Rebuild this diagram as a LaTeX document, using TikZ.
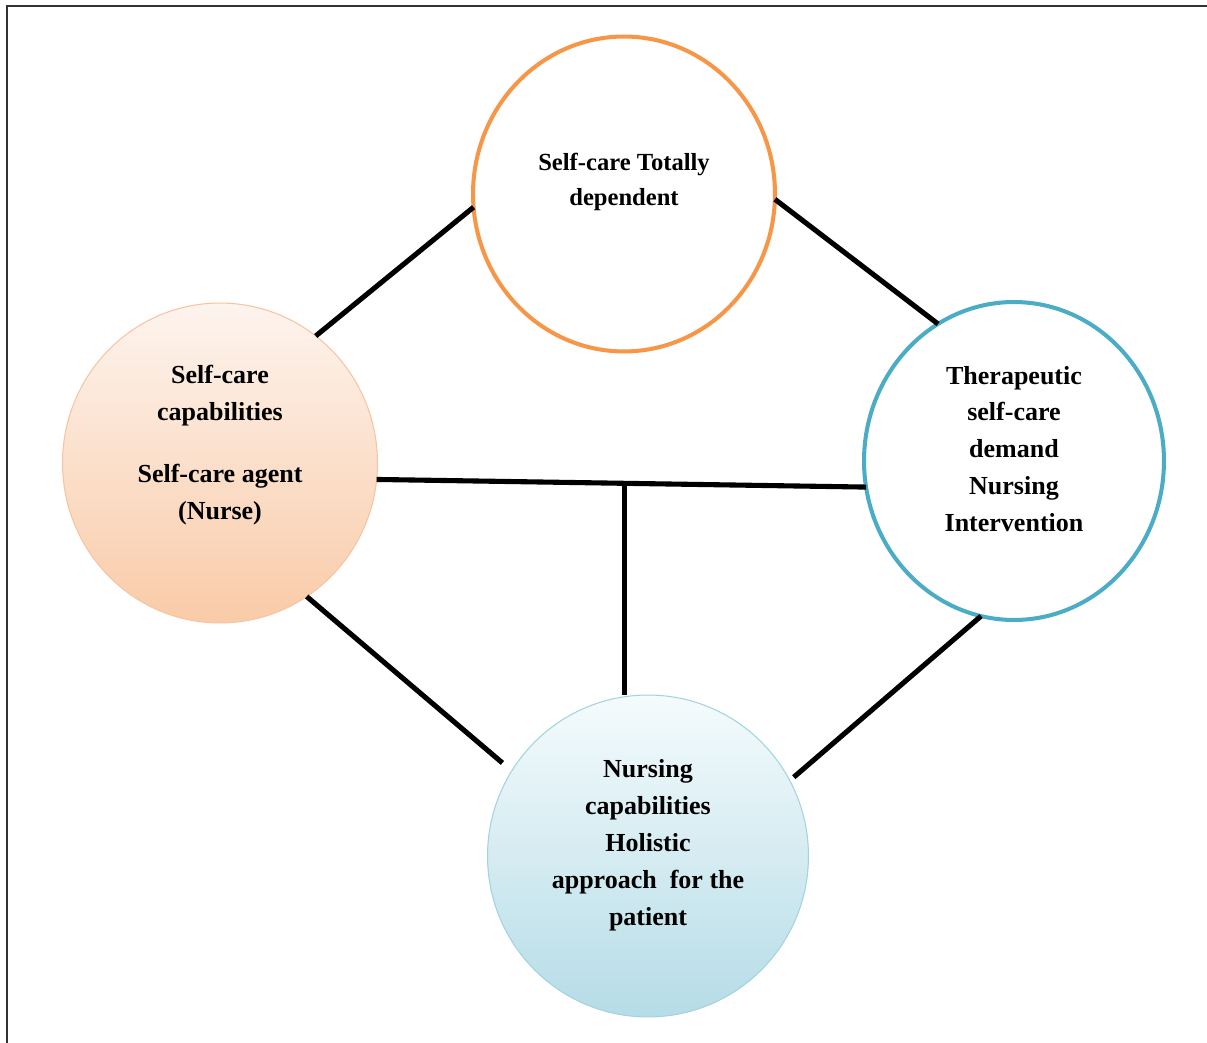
\documentclass[tikz,border=0pt]{standalone}
\usepackage{fontspec}
\setmainfont{Liberation Serif}
\usetikzlibrary{shapes.geometric, positioning}

\definecolor{ringorange}{HTML}{F79646}
\definecolor{ringblue}{HTML}{4BACC6}
\definecolor{peachtop}{HTML}{FDF4EE}
\definecolor{peachbot}{HTML}{F9CBA8}
\definecolor{peachline}{HTML}{F8C4A0}
\definecolor{icetop}{HTML}{F5FBFC}
\definecolor{icebot}{HTML}{B5DCE7}
\definecolor{iceline}{HTML}{A3D3E0}

\begin{document}
\begin{tikzpicture}[x=0.02cm, y=-0.02cm,
    phase/.style={ellipse, inner sep=0pt, outer sep=0pt},
    every label/.style={align=center, text=black,
      font=\bfseries\fontsize{14.8}{21}\selectfont},
    every edge/.style={draw, line width=2.9pt}]

  \useasboundingbox (0,0) rectangle (1207,1043);
  \draw[line width=1pt, black!80] (7,1043) -- (7,6) -- (1207,6);

  % Four phases of the self-care model
  \node[phase, draw=ringorange, line width=2.3pt, fill=white,
        minimum width=6.04cm, minimum height=6.30cm,
        label={[yshift=0.24cm, font=\bfseries\fontsize{14}{19.5}\selectfont]center:{Self-care Totally\\dependent}}]
    (dep) at (624,194) {};
  \node[phase, draw=peachline, line width=0.6pt,
        top color=peachtop, bottom color=peachbot,
        minimum width=6.30cm, minimum height=6.40cm,
        label={[yshift=0.36cm]center:{Self-care\\capabilities\\[14pt]Self-care agent\\(Nurse)}}]
    (agent) at (220,463) {};
  \node[phase, draw=ringblue, line width=2.3pt, fill=white,
        minimum width=6.00cm, minimum height=6.36cm,
        label={[yshift=0.24cm]center:{Therapeutic\\self-care\\demand\\Nursing\\Intervention}}]
    (demand) at (1014,461) {};
  \node[phase, draw=iceline, line width=0.6pt,
        top color=icetop, bottom color=icebot,
        minimum width=6.42cm, minimum height=6.44cm,
        label={[yshift=0.22cm]center:{Nursing\\capabilities\\Holistic\\approach~ for the\\patient}}]
    (nursing) at (648,856) {};

  \path (agent.53)   edge (dep.185)
        (dep.-2)     edge (demand.119)
        (agent.-57)  edge[shorten >=7pt] (nursing.148)
        (demand.-102) edge[shorten >=3pt] (nursing.28)
        (agent.-6)   edge (demand.190);

  \path (agent.-6) -- (demand.190) coordinate[pos=0.506] (mid);
  \draw[line width=2.9pt] (mid) -- (mid |- nursing.north);

\end{tikzpicture}
\end{document}
